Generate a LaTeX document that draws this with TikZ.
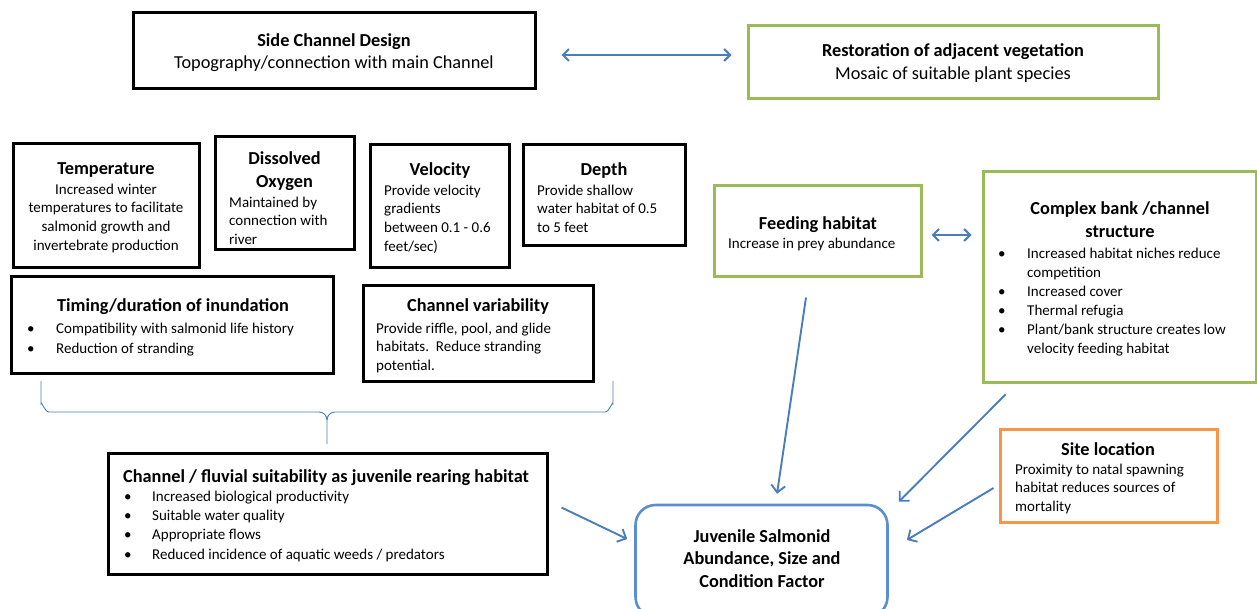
\documentclass[tikz,border=0pt]{standalone}
\usepackage{fontspec}
\setmainfont{Carlito}
\usetikzlibrary{arrows.meta,calc}
\definecolor{arrowblue}{HTML}{4A7EBB}
\definecolor{juvblue}{HTML}{5A8ED0}
\definecolor{boxgreen}{HTML}{9BBB59}
\definecolor{boxorange}{HTML}{F79646}
\newcommand\bstr{\rule{0pt}{12pt}}
\newcommand\tstr{\rule{0pt}{15pt}}
\tikzset{
  blackbox/.style={draw=black, line width=3pt, inner sep=0pt},
  greenbox/.style={draw=boxgreen, line width=3pt, inner sep=0pt},
  orangebox/.style={draw=boxorange, line width=3pt, inner sep=0pt},
  juvbox/.style={draw=juvblue, line width=2.6pt, rounded corners=20pt, inner sep=0pt},
  ttl/.style={font=\bfseries\fontsize{18.3}{23}\selectfont, inner sep=0pt, align=center},
  sub/.style={font=\fontsize{18.3}{23}\selectfont, inner sep=0pt},
  bdy/.style={font=\fontsize{15}{18.7}\selectfont, inner sep=0pt},
  lst/.style={font=\fontsize{15}{19.3}\selectfont, inner sep=0pt, align=left},
  conn/.style={draw=arrowblue, line width=1.9pt, -{Straight Barb[length=7pt,width=14pt]}},
  biconn/.style={draw=arrowblue, line width=2.1pt, {Straight Barb[length=6pt,width=12pt]}-{Straight Barb[length=6pt,width=12pt]}},
  bracepath/.style={draw=arrowblue, line width=0.9pt}
}
\begin{document}
\begin{tikzpicture}[x=1pt,y=-1pt]
\useasboundingbox (0,0) rectangle (1257,609);
% boxes
\node[blackbox, minimum width=402pt, minimum height=76pt] (scd) at (334,51) {};
\node[greenbox, minimum width=410pt, minimum height=73pt] (rest) at (953,62.5) {};
\node[blackbox, minimum width=186pt, minimum height=124pt] (temp) at (106,206) {};
\node[blackbox, minimum width=139pt, minimum height=113pt] (do) at (284.5,193.5) {};
\node[blackbox, minimum width=139pt, minimum height=123pt] (vel) at (439.5,206.5) {};
\node[blackbox, minimum width=162pt, minimum height=101pt] (dep) at (604,195.5) {};
\node[blackbox, minimum width=322pt, minimum height=96pt] (tim) at (172,325) {};
\node[blackbox, minimum width=230pt, minimum height=95pt] (cvar) at (478,333.5) {};
\node[blackbox, minimum width=439pt, minimum height=121pt] (fluv) at (327.5,513.5) {};
\node[juvbox, minimum width=252pt, minimum height=112pt] (juv) at (761.5,561) {};
\node[greenbox, minimum width=207pt, minimum height=91pt] (feed) at (817.5,231.5) {};
\node[greenbox, minimum width=273pt, minimum height=210pt] (comp) at (1119.5,277) {};
\node[orangebox, minimum width=217pt, minimum height=93pt] (site) at (1108.5,475.5) {};
% texts
\node[ttl, anchor=base] (scdt) at (334,47) {Side Channel Design};
\node[sub, anchor=base] (scdb) at (334,69) {Topography/connection with main Channel};
\node[ttl, anchor=base] (restt) at (953,57) {Restoration of adjacent vegetation};
\node[sub, anchor=base] (restb) at (953,80) {Mosaic of suitable plant species};
\node[ttl, anchor=base] (tempt) at (106,175) {Temperature};
\node[bdy, align=center, anchor=north] (tempb) at (106,182) {\bstr Increased winter\\temperatures to facilitate\\salmonid growth and\\invertebrate production};
\node[ttl, anchor=north] (dot) at (284.5,149) {\tstr Dissolved\\Oxygen};
\node[bdy, align=left, anchor=north west] (dob) at (229,195) {\bstr Maintained by\\connection with\\river};
\node[ttl, anchor=base] (velt) at (440,176) {Velocity};
\node[bdy, align=left, anchor=north west] (velb) at (384,183) {\bstr Provide velocity\\gradients\\between 0.1 - 0.6\\feet/sec)};
\node[ttl, anchor=base] (dept) at (604,176) {Depth};
\node[bdy, align=left, anchor=north west] (depb) at (537,183) {\bstr Provide shallow\\water habitat of 0.5\\to 5 feet};
\node[ttl, anchor=base] (timt) at (173,312) {Timing/duration of inundation};
\node[lst, font=\fontsize{15}{20}\selectfont, anchor=north west] (timb) at (27,321) {\bstr\makebox[29pt][l]{\textbullet}Compatibility with salmonid life history\\\makebox[29pt][l]{\textbullet}Reduction of stranding};
\node[ttl, anchor=base] (cvart) at (478,312) {Channel variability};
\node[bdy, align=left, anchor=north west] (cvarb) at (376,321) {\bstr Provide riffle, pool, and glide\\habitats.\ \ Reduce stranding\\potential.};
\node[ttl, anchor=base] (fluvt) at (326,482) {Channel / fluvial suitability as juvenile rearing habitat};
\node[lst, anchor=north west] (fluvb) at (124,489) {\bstr\makebox[28pt][l]{\textbullet}Increased biological productivity\\\makebox[28pt][l]{\textbullet}Suitable water quality\\\makebox[28pt][l]{\textbullet}Appropriate flows\\\makebox[28pt][l]{\textbullet}Reduced incidence of aquatic weeds / predators};
\node[ttl, font=\bfseries\fontsize{18.3}{22.5}\selectfont, anchor=north] (juvt) at (762,527) {\tstr Juvenile Salmonid\\Abundance, Size and\\Condition Factor};
\node[ttl, anchor=base] (feedt) at (818,230) {Feeding habitat};
\node[bdy, anchor=base west] (feedb) at (728,249) {Increase in prey abundance};
\node[ttl, anchor=north] (compt) at (1120,199) {\tstr Complex bank /channel\\structure};
\node[lst, font=\fontsize{15}{19}\selectfont, anchor=north west] (compb) at (998,246) {\bstr\makebox[29pt][l]{\textbullet}Increased habitat niches reduce\\\hspace*{29pt}competition\\\makebox[29pt][l]{\textbullet}Increased cover\\\makebox[29pt][l]{\textbullet}Thermal refugia\\\makebox[29pt][l]{\textbullet}Plant/bank structure creates low\\\hspace*{29pt}velocity feeding habitat};
\node[ttl, anchor=base] (sitet) at (1108,455) {Site location};
\node[bdy, align=left, anchor=north west] (siteb) at (1015,462) {\bstr Proximity to natal spawning\\habitat reduces sources of\\mortality};
% brace
\draw[bracepath] (41,381) -- (41,404) to[out=90,in=180] (49,412) -- (319,412) to[out=0,in=90] (327,420) -- (327,444);
\draw[bracepath] (327,420) to[out=90,in=180] (335,412) -- (605,412) to[out=0,in=90] (613,404) -- (613,381);
% connectors
\draw[biconn] ($(scd.east)+(25,4)$) -- ($(rest.west)+(-15,-7.5)$);
\draw[biconn] ($(feed.east)+(9,3.5)$) -- ($(feed.east -| comp.west)+(-10,3.5)$);
\draw[conn] ($(fluv.east)+(13,-6)$) -- ($(juv.west)+(-7,-22)$);
\draw[conn] ($(feed.south)+(-11.5,19)$) -- ($(juv.north)+(15.5,-10)$);
\draw[conn] ($(comp.south west)+(24,11)$) -- ($(juv.north east)+(10,-2)$);
\draw[conn] ($(site.west)+(-5,12.5)$) -- ($(juv.east)+(18,-21)$);
\end{tikzpicture}
\end{document}
